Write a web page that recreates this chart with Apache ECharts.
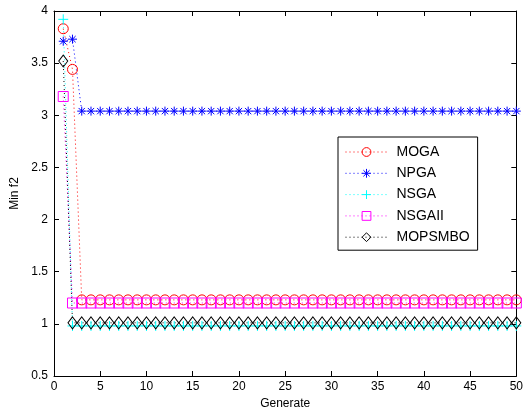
<!DOCTYPE html>
<html><head><meta charset="utf-8">
<script src="https://cdn.jsdelivr.net/npm/echarts@6/dist/echarts.min.js"></script>
<style>html,body{margin:0;padding:0;background:#fff}#c{width:526px;height:417px}</style>
</head><body><div id="c"></div>
<script>
const generations = Array.from({length: 50}, (_, i) => i + 1);
const xTicks = [0,5,10,15,20,25,30,35,40,45,50];
const yTicks = [0.5,1,1.5,2,2.5,3,3.5,4];
const MOGA = [3.83,3.44,1.23,1.23,1.23,1.23,1.23,1.23,1.23,1.23,1.23,1.23,1.23,1.23,1.23,1.23,1.23,1.23,1.23,1.23,1.23,1.23,1.23,1.23,1.23,1.23,1.23,1.23,1.23,1.23,1.23,1.23,1.23,1.23,1.23,1.23,1.23,1.23,1.23,1.23,1.23,1.23,1.23,1.23,1.23,1.23,1.23,1.23,1.23,1.23];
const NPGA = [3.71,3.73,3.04,3.04,3.04,3.04,3.04,3.04,3.04,3.04,3.04,3.04,3.04,3.04,3.04,3.04,3.04,3.04,3.04,3.04,3.04,3.04,3.04,3.04,3.04,3.04,3.04,3.04,3.04,3.04,3.04,3.04,3.04,3.04,3.04,3.04,3.04,3.04,3.04,3.04,3.04,3.04,3.04,3.04,3.04,3.04,3.04,3.04,3.04,3.04];
const NSGA = [3.92,0.98,0.98,0.98,0.98,0.98,0.98,0.98,0.98,0.98,0.98,0.98,0.98,0.98,0.98,0.98,0.98,0.98,0.98,0.98,0.98,0.98,0.98,0.98,0.98,0.98,0.98,0.98,0.98,0.98,0.98,0.98,0.98,0.98,0.98,0.98,0.98,0.98,0.98,0.98,0.98,0.98,0.98,0.98,0.98,0.98,0.98,0.98,0.98,0.98];
const NSGAII = [3.18,1.2,1.2,1.2,1.2,1.2,1.2,1.2,1.2,1.2,1.2,1.2,1.2,1.2,1.2,1.2,1.2,1.2,1.2,1.2,1.2,1.2,1.2,1.2,1.2,1.2,1.2,1.2,1.2,1.2,1.2,1.2,1.2,1.2,1.2,1.2,1.2,1.2,1.2,1.2,1.2,1.2,1.2,1.2,1.2,1.2,1.2,1.2,1.2,1.2];
const MOPSMBO = [3.52,1.01,1.01,1.01,1.01,1.01,1.01,1.01,1.01,1.01,1.01,1.01,1.01,1.01,1.01,1.01,1.01,1.01,1.01,1.01,1.01,1.01,1.01,1.01,1.01,1.01,1.01,1.01,1.01,1.01,1.01,1.01,1.01,1.01,1.01,1.01,1.01,1.01,1.01,1.01,1.01,1.01,1.01,1.01,1.01,1.01,1.01,1.01,1.01,1.01];

const FONT = 'Liberation Sans, Arial, sans-serif';
const ASTER = 'path://M5,0L5,10M0,5L10,5M1.5,1.5L8.5,8.5M8.5,1.5L1.5,8.5';
const PLUS = 'path://M5,0L5,10M0,5L10,5';

function mk(name, data, color, symbol, size) {
  return {
    name, type: 'line', data: generations.map((g, i) => [g, data[i]]),
    symbol, symbolSize: size, showSymbol: true,
    lineStyle: {color, type: [1, 3], width: 1},
    itemStyle: {color: 'rgba(0,0,0,0)', borderColor: color, borderWidth: 1},
    emphasis: {disabled: true}, animation: false, z: 3
  };
}

const chart = echarts.init(document.getElementById('c'), null, {renderer: 'canvas'});
const axisCommon = {
  axisLine: {show: true, onZero: false, lineStyle: {color: '#000', width: 1}},
  axisTick: {show: true, inside: true, length: 5, lineStyle: {color: '#000'}},
  splitLine: {show: false}
};
chart.setOption({
  backgroundColor: '#fff',
  animation: false,
  grid: {left: 54, right: 9, top: 11, bottom: 41, containLabel: false},
  xAxis: [
    Object.assign({type: 'value', min: 0, max: 50, interval: 5, position: 'bottom',
      name: 'Generate', nameLocation: 'middle', nameGap: 21,
      nameTextStyle: {fontFamily: FONT, fontSize: 12, color: '#000'},
      axisLabel: {fontFamily: FONT, fontSize: 12, color: '#000', margin: 5,
        formatter: v => xTicks.includes(v) ? String(v) : ''}}, axisCommon),
    Object.assign({type: 'value', min: 0, max: 50, interval: 5, position: 'top',
      axisLabel: {show: false}}, axisCommon)
  ],
  yAxis: [
    Object.assign({type: 'value', min: 0.5, max: 4, interval: 0.5, position: 'left',
      name: 'Min f2', nameLocation: 'middle', nameGap: 33, nameRotate: 90,
      nameTextStyle: {fontFamily: FONT, fontSize: 12, color: '#000'},
      axisLabel: {fontFamily: FONT, fontSize: 12, color: '#000', margin: 6,
        formatter: v => yTicks.includes(v) ? String(v) : ''}}, axisCommon),
    Object.assign({type: 'value', min: 0.5, max: 4, interval: 0.5, position: 'right',
      axisLabel: {show: false}}, axisCommon)
  ],
  legend: {
    orient: 'vertical', left: 338, top: 137,
    itemWidth: 42, itemHeight: 11, itemGap: 7.3,
    padding: [8, 8, 6, 7],
    borderColor: '#000', borderWidth: 1, backgroundColor: '#fff',
    lineStyle: {width: 1, type: [1, 3]},
    itemStyle: {borderWidth: 1},
    textStyle: {fontFamily: FONT, fontSize: 14, color: '#000', padding: [0, 0, 0, 4]},
    data: ['MOGA','NPGA','NSGA','NSGAII','MOPSMBO']
  },
  series: [
    mk('MOGA', MOGA, '#ff0000', 'circle', 10),
    mk('NPGA', NPGA, '#0000ff', ASTER, 9),
    mk('NSGA', NSGA, '#00ffff', PLUS, 10),
    mk('NSGAII', NSGAII, '#ff00ff', 'rect', 10),
    mk('MOPSMBO', MOPSMBO, '#000000', 'diamond', [9, 12])
  ]
});
</script></body></html>
